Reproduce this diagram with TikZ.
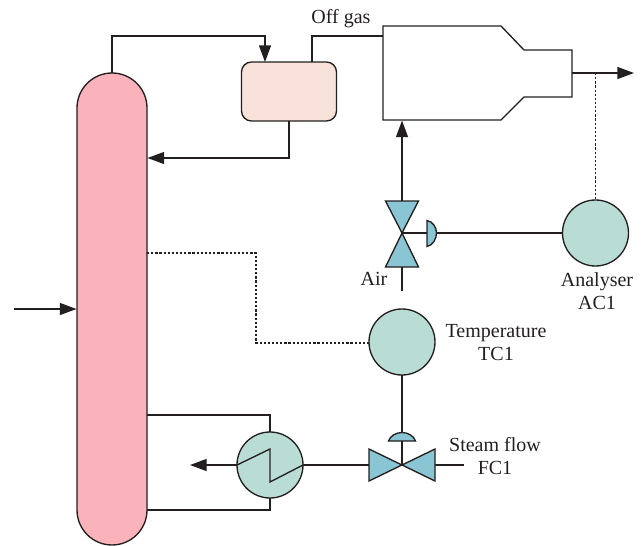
\documentclass[tikz,border=0pt]{standalone}
\usepackage{fontspec}
\setmainfont{Liberation Serif}
\usetikzlibrary{arrows.meta,calc}
\definecolor{ink}{HTML}{231F20}
\definecolor{pinkfill}{HTML}{FAB3BA}
\definecolor{drumfill}{HTML}{F9E2D9}
\definecolor{tealfill}{HTML}{B9DDD4}
\definecolor{valvefill}{HTML}{89C5D2}
\tikzset{
  pipe/.style={draw=ink,line width=1pt},
  flow/.style={pipe,-{Triangle[length=12.5pt,width=9pt]}},
  signal/.style={draw=ink,line width=0.85pt,dash pattern=on 1.7pt off 1.4pt},
  instr/.style={circle,draw=ink,line width=1pt,fill=tealfill,minimum size=49.5pt,inner sep=0pt,outer sep=0pt},
  valvepart/.style={draw=ink,line width=1pt,fill=valvefill,line join=miter},
  lbl/.style={text=ink,font=\fontsize{15pt}{17.3pt}\selectfont,align=center,inner sep=0pt},
}
\begin{document}
\begin{tikzpicture}[x=0.75pt,y=-0.75pt]
\useasboundingbox (0,0) rectangle (643,546);
% equipment
\node[draw=ink,line width=1pt,fill=pinkfill,rectangle,rounded corners=26.25pt,minimum width=52.5pt,minimum height=354pt,inner sep=0pt,outer sep=0pt] (column) at (112,309) {};
\node[draw=ink,line width=1pt,fill=drumfill,rectangle,rounded corners=7.5pt,minimum width=71.25pt,minimum height=44.25pt,inner sep=0pt,outer sep=0pt] (drum) at (289,91.5) {};
\node[instr] (ac) at (595.5,233) {};
\node[instr] (tc) at (402,342) {};
\node[instr] (hx) at (270,465) {};
% furnace
\coordinate (fa) at (383,26); \coordinate (fb) at (501,26); \coordinate (fc) at (524,50);
\coordinate (fd) at (572,50); \coordinate (fe) at (572,97); \coordinate (ff) at (524,97);
\coordinate (fg) at (501,120); \coordinate (fh) at (383,120);
\draw[pipe,line join=miter] (fa)--(fb)--(fc)--(fd)--(fe)--(ff)--(fg)--(fh)--cycle;
% free ends and tees
\coordinate (gasin) at (383,36);
\coordinate (fout) at (572,73);
\coordinate (fend) at (634,73);
\coordinate (airv) at (402,233);
\coordinate (airend) at (402,291);
\coordinate (stv) at (402,465);
\coordinate (stend) at (464,465);
\coordinate (hxend) at (190,465);
\coordinate (feed) at (14,309);
% pipes
\draw[flow] (column.north) -- (112,36) -- (265,36) -- (265,62);
\draw[flow] (drum.south) -- (289,158) -- (147.5,158);
\draw[pipe] (312,62) -- (312,36) -- (gasin);
\draw[flow] (fout) -- (fend);
\draw[flow] (feed) -- (76.5,309);
\draw[signal] (595.5,73) -- (ac.north);
\draw[signal] (147,253) -- (256,253) -- (256,343) -- (369,343);
% air valve
\draw[flow] (402,201) -- (402,120.5);
\draw[pipe] (402,267) -- (airend);
\draw[pipe] (airv) -- (427,233);
\draw[pipe] (436,233) -- (ac.west);
\draw[valvepart] (385.5,201) -- (418.5,201) -- (airv) -- cycle;
\draw[valvepart] (385.5,267) -- (418.5,267) -- (airv) -- cycle;
\draw[valvepart] (427,220.5) .. controls (433,221.5) and (436.5,227.5) .. (436.5,233) .. controls (436.5,238.5) and (433,245.5) .. (427,246.5) -- cycle;
% steam valve
\draw[pipe] (tc.south) -- (stv);
\draw[pipe] (hx.east) -- (369,465);
\draw[pipe] (435,465) -- (stend);
\draw[valvepart] (369,449) -- (369,481) -- (stv) -- cycle;
\draw[valvepart] (435,449) -- (435,481) -- (stv) -- cycle;
\draw[valvepart] (388.5,441) .. controls (390,436) and (396,432.5) .. (402,432.5) .. controls (408,432.5) and (414,436) .. (415.5,441) -- cycle;
% exchanger
\draw[pipe] (hx.north) -- (270,415) -- (147,415);
\draw[pipe] (hx.south) -- (270,510) -- (147,510);
\draw[flow] (hx.west) -- (hxend);
\draw[pipe,line join=miter] (hx.west) -- (270,449) -- (270,482) -- (hx.east);
% labels
\node[lbl] (lgas) at (341,19) {Off gas};
\node[lbl] (lair) at (374,279) {Air};
\node[lbl] (lac) at (597,291.5) {Analyser\\AC1};
\node[lbl] (ltc) at (496,342.5) {Temperature\\TC1};
\node[lbl] (lfc) at (495,456.5) {Steam flow\\FC1};
\end{tikzpicture}
\end{document}
